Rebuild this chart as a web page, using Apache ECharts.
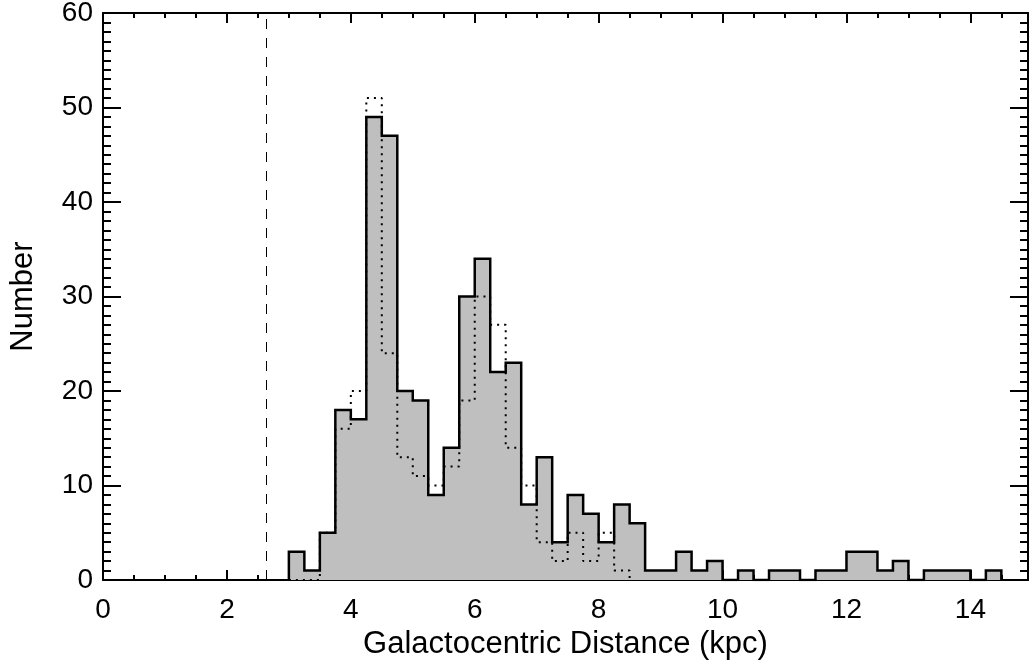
<!DOCTYPE html>
<html>
<head>
<meta charset="utf-8">
<script src="https://cdn.jsdelivr.net/npm/echarts@6/dist/echarts.min.js"></script>
<style>
  html, body { margin: 0; padding: 0; background: #fff; }
  #chart { width: 1032px; height: 666px; }
</style>
</head>
<body>
<div id="chart"></div>
<script>
// histogram bins: 0.25 kpc wide, starting at 3.0 kpc
const binStart = 3.0;
const binWidth = 0.25;
const solidCounts = [3, 1, 5, 18, 17, 49, 47, 20, 19, 9, 14, 30, 34, 22, 23, 8, 13, 4, 9, 7, 4, 8, 6, 1, 1, 3, 1, 2, 0, 1, 0, 1, 1, 0, 1, 1, 3, 3, 1, 2, 0, 1, 1, 1, 0, 1];
const dottedCounts = [0, 0, 5, 16, 20, 51, 24, 13, 11, 10, 12, 19, 30, 27, 14, 10, 4, 2, 5, 2, 5, 1];
const dashedX = 2.63;
const xTicks = [0, 2, 4, 6, 8, 10, 12, 14];
const yTicks = [0, 10, 20, 30, 40, 50, 60];

function stepPoints(start, width, counts) {
  const pts = [[start, 0]];
  counts.forEach((c, i) => {
    pts.push([start + i * width, c], [start + (i + 1) * width, c]);
  });
  pts.push([start + counts.length * width, 0]);
  return pts;
}

const font = 'Liberation Sans, Arial, Helvetica, sans-serif';
const chart = echarts.init(document.getElementById('chart'));

const xBase = {
  type: 'value',
  min: xTicks[0],
  max: 14.93,
  interval: 2,
  splitLine: { show: false },
  axisLine: { show: true, onZero: false, lineStyle: { color: '#000', width: 2 } },
  axisTick: { show: true, inside: true, length: 10, lineStyle: { color: '#000', width: 2 } },
  minorTick: { show: true, splitNumber: 4, length: 5, lineStyle: { color: '#000', width: 2 } }
};
const yBase = {
  type: 'value',
  min: yTicks[0],
  max: yTicks[yTicks.length - 1],
  interval: 10,
  splitLine: { show: false },
  axisLine: { show: true, onZero: false, lineStyle: { color: '#000', width: 2 } },
  axisTick: { show: true, inside: true, length: 18, lineStyle: { color: '#000', width: 2 } },
  minorTick: { show: true, splitNumber: 10, length: 8, lineStyle: { color: '#000', width: 2 } }
};

chart.setOption({
  backgroundColor: '#fff',
  animation: false,
  grid: { left: 103, right: 4, top: 13, bottom: 86, outerBoundsMode: 'none' },
  xAxis: [
    Object.assign({}, xBase, {
      position: 'bottom',
      name: 'Galactocentric Distance (kpc)',
      nameLocation: 'middle',
      nameGap: 42,
      nameTextStyle: { fontFamily: font, fontSize: 31, color: '#000' },
      axisLabel: {
        fontFamily: font, fontSize: 28, color: '#000', margin: 16,
        showMaxLabel: false,
        formatter: v => (xTicks.includes(v) ? String(v) : '')
      }
    }),
    Object.assign({}, xBase, { position: 'top', axisLabel: { show: false } })
  ],
  yAxis: [
    Object.assign({}, yBase, {
      position: 'left',
      name: 'Number',
      nameLocation: 'middle',
      nameGap: 64,
      nameTextStyle: { fontFamily: font, fontSize: 31, color: '#000' },
      axisLabel: { fontFamily: font, fontSize: 28, color: '#000', margin: 10 }
    }),
    Object.assign({}, yBase, { position: 'right', axisLabel: { show: false } })
  ],
  series: [
    {
      type: 'line',
      data: stepPoints(binStart, binWidth, solidCounts),
      showSymbol: false,
      z: 2,
      lineStyle: { color: '#000', width: 2.5, join: 'miter' },
      areaStyle: { color: '#bfbfbf', opacity: 1 },
      markLine: {
        silent: true,
        symbol: ['none', 'none'],
        label: { show: false },
        lineStyle: { color: '#000', width: 1, type: [10, 9] },
        data: [{ xAxis: dashedX }]
      }
    },
    {
      type: 'line',
      data: stepPoints(binStart, binWidth, dottedCounts),
      showSymbol: false,
      z: 3,
      lineStyle: { color: '#000', width: 2, type: [2, 5], cap: 'butt' }
    }
  ]
});
</script>
</body>
</html>
